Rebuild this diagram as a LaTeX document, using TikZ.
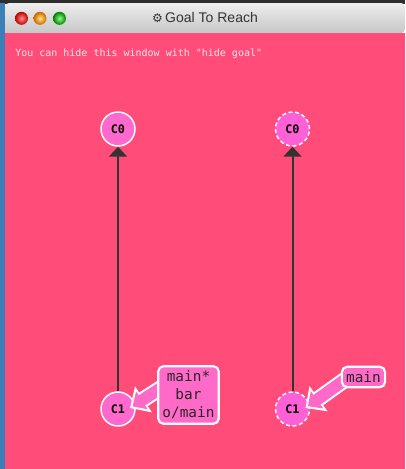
\documentclass[tikz,border=0pt]{standalone}
\usepackage{fontspec}
\setmainfont{Liberation Sans}
\setmonofont{DejaVu Sans Mono}
\newfontfamily\symfont{DejaVu Sans}
\usetikzlibrary{arrows.meta,calc}

\definecolor{goalbg}{RGB}{255,76,121}
\definecolor{commitpink}{RGB}{255,104,204}
\definecolor{ghostpink}{RGB}{255,96,214}
\definecolor{branchpink}{RGB}{255,106,200}
\definecolor{edgegray}{RGB}{51,51,51}
\definecolor{barstrip}{RGB}{60,127,184}

\pgfdeclarelayer{back}
\pgfdeclarelayer{front}
\pgfsetlayers{back,main,front}

\tikzset{
  commit/.style={circle,draw=white,line width=1.1pt,fill=commitpink,
    minimum size=25.5pt,inner sep=0pt,font=\ttfamily\bfseries\fontsize{8.8}{9}\selectfont},
  ghost/.style={commit,fill=ghostpink,dash pattern=on 3pt off 2pt},
  branchbox/.style={draw=white,line width=1.6pt,fill=branchpink,rounded corners=4pt,
    align=center,inner xsep=3.2pt,inner ysep=3.5pt,text=black!85,
    font=\ttfamily\fontsize{10.8}{13.5}\selectfont},
  parent/.style={draw=edgegray,line width=1.5pt,-{Triangle[length=7.5pt,width=13.5pt]}},
  fatout/.style={draw=white,line width=12pt,-{Triangle[length=12pt,width=22.5pt]}},
  fatin/.style={draw=branchpink,line width=9pt,shorten >=2.3pt,
    -{Triangle[length=8.3pt,width=15.5pt]}}
}

\begin{document}
\begin{tikzpicture}[x=0.75pt,y=-0.75pt]
\useasboundingbox (0,0) rectangle (405,469);

% window frame
\begin{pgfonlayer}{back}
\fill[black!82] (0,0) rectangle (405,4);
\fill[barstrip] (0,3) rectangle (5,469);
\shade[top color=black!7,bottom color=black!22,rounded corners=3pt]
  (5,33) -- (5,3) -- (405,3) -- (405,33) [sharp corners] -- cycle;
\fill[goalbg] (5,33) rectangle (405,469);
\shade[inner color=red!45,outer color=red!75!black] (21.5,18.3) circle (6.5);
\shade[inner color=yellow!60!orange!50,outer color=orange!80!black] (40,18.3) circle (6.5);
\shade[inner color=green!45,outer color=green!50!black] (59.5,18.3) circle (6.5);
\end{pgfonlayer}

\node (title) at (205,18) {\fontsize{10.5}{12}\selectfont\color{black!80}{\symfont\fontsize{9}{12}\selectfont ⚙}\,Goal To Reach};
\node[anchor=base west,inner sep=0pt,text=white!85!goalbg,font=\ttfamily\fontsize{7.5}{9}\selectfont]
  (hint) at (15,56) {You can hide this window with "hide goal"};

% current tree
\node (c0l) [commit] at (118,129) {C0};
\node (c1l) [commit] at (118,409) {C1};

% goal tree
\node (c0r) [ghost] at (292.5,129) {C0};
\node (c1r) [ghost] at (292.5,409) {C1};

\begin{pgfonlayer}{front}
\node (lbla) [branchbox] at (188.5,395) {main*\\bar\\o/main};
\node (lblb) [branchbox] at (363.5,377) {main};
\end{pgfonlayer}

\draw[parent] (c1l) -- (c0l);
\draw[parent] (c1r) -- (c0r);

\draw[fatout] ($(lbla.west)+(7,-9)$) -- ($(c1l.center)+(12,-1)$);
\draw[fatin]  ($(lbla.west)+(7,-9)$) -- ($(c1l.center)+(12,-1)$);
\draw[fatout] ($(lblb.west)+(8,0)$) -- ($(c1r.center)+(13,-1)$);
\draw[fatin]  ($(lblb.west)+(8,0)$) -- ($(c1r.center)+(13,-1)$);
\end{tikzpicture}
\end{document}
